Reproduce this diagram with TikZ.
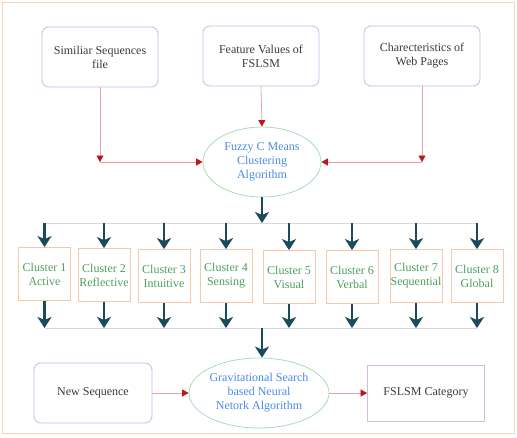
\documentclass[tikz,border=0pt]{standalone}
\usepackage{fontspec}
\setmainfont{Liberation Serif}
\usetikzlibrary{shapes.geometric,arrows.meta}
\definecolor{frameC}{HTML}{F8D5B5}
\definecolor{topbox}{HTML}{B8BEE8}
\definecolor{txtgrey}{HTML}{3A3A3A}
\definecolor{ellC}{HTML}{A8DDB5}
\definecolor{elltxt}{HTML}{4A8AE8}
\definecolor{clbox}{HTML}{F5C8A8}
\definecolor{cltxt}{HTML}{4E9E5E}
\definecolor{redln}{HTML}{E8A0A0}
\definecolor{redtip}{HTML}{C0141C}
\definecolor{teal}{HTML}{1A4A5C}
\definecolor{busC}{HTML}{D8D8E0}
\definecolor{purpC}{HTML}{D8B8E8}
\begin{document}
\begin{tikzpicture}[x=1pt,y=-1pt,
  every node/.style={font=\fontsize{12}{14}\selectfont, align=center},
  srcbox/.style={draw=topbox, line width=0.8pt, rounded corners=7pt, minimum width=116pt, minimum height=60pt, text=txtgrey, inner sep=1pt},
  algo/.style={ellipse, draw=ellC, line width=0.8pt, minimum width=118pt, minimum height=70pt, text=elltxt, inner sep=0pt},
  clusterbox/.style={draw=clbox, line width=0.8pt, minimum width=52pt, minimum height=53pt, text=cltxt, inner sep=0.5pt},
  redarrow/.style={draw=redln, line width=0.7pt, -{Triangle[width=7pt,length=6.5pt,color=redtip]}},
  redline/.style={draw=redln, line width=0.7pt},
  tealarrow/.style={draw=teal, line width=2.6pt, -{Stealth[width=14pt,length=11pt,inset=3pt]}},
  bus/.style={draw=busC, line width=0.8pt}]
\useasboundingbox (0,0) rectangle (517,437);
\draw[frameC, line width=1pt] (2,2) rectangle (514,433);

\node[srcbox] (s1) at (100,57) {Similiar Sequences\\file};
\node[srcbox] (s2) at (261,56) {Feature Values of\\FSLSM};
\node[srcbox] (s3) at (422,56) {Charecteristics of\\Web Pages};

\node[algo] (e1) at (262,162) {Fuzzy C Means\\Clustering\\Algorithm};

\coordinate (j1) at (100,162);
\coordinate (j3) at (422,162);
\draw[redarrow] (s1.south) -- (j1);
\draw[redarrow] (j1) -- (e1.west);
\draw[redarrow] (s2.south) -- (e1.north);
\draw[redarrow] (s3.south) -- (j3);
\draw[redarrow] (j3) -- (e1.east);

\node[clusterbox] (c1) at (44.5,274) {Cluster 1\\Active};
\node[clusterbox] (c2) at (104,275) {Cluster 2\\Reflective};
\node[clusterbox] (c3) at (164,276) {Cluster 3\\Intuitive};
\node[clusterbox] (c4) at (226,276) {Cluster 4\\Sensing};
\node[clusterbox] (c5) at (289,277) {Cluster 5\\Visual};
\node[clusterbox] (c6) at (352,277) {Cluster 6\\Verbal};
\node[clusterbox] (c7) at (416,276) {Cluster 7\\Sequential};
\node[clusterbox] (c8) at (477,276) {Cluster 8\\Global};

\coordinate (bt) at (262,223);
\coordinate (bb) at (262,328);
\draw[bus] (bt -| c1) -- (bt -| c8);
\draw[bus] (bb -| c1) -- (bb -| c8);
\draw[tealarrow] (e1.south) -- (bt);
\foreach \c in {c1,c2,c3,c4,c5,c6,c7,c8}{
  \draw[tealarrow] (bt -| \c) -- (\c.north);
  \draw[tealarrow] (\c.south) -- (bb -| \c);
}

\node[algo] (e2) at (259,393) {Gravitational Search\\based Neural\\Netork Algorithm};
\draw[tealarrow] (bb) -- (bb |- e2.north);

\node[srcbox, minimum width=118pt] (ns) at (93,393) {New Sequence};
\node[draw=purpC, line width=0.8pt, minimum width=117pt, minimum height=56pt, text=txtgrey] (fc) at (426,393) {FSLSM Category};
\draw[redarrow] (ns.east) -- (e2.west);
\draw[redarrow] (e2.east) -- (fc.west);
\end{tikzpicture}
\end{document}
